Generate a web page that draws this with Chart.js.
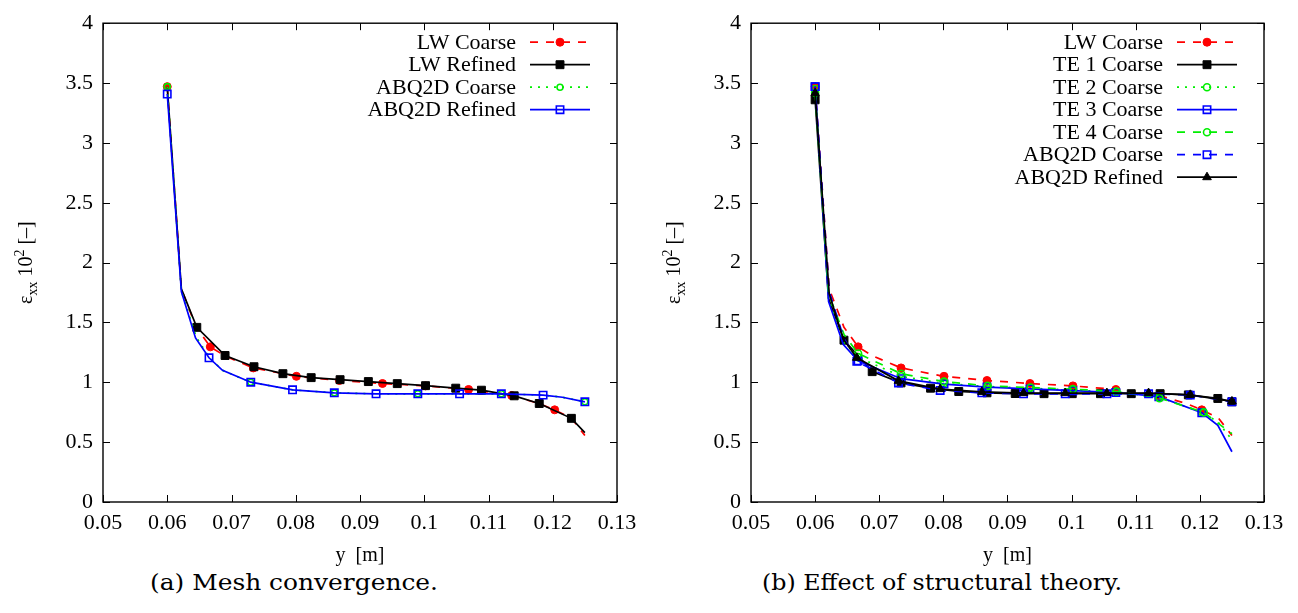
<!DOCTYPE html>
<html>
<head>
<meta charset="utf-8">
<script src="https://cdn.jsdelivr.net/npm/chart.js@4.4.0/dist/chart.umd.min.js"></script>
<style>
html, body { margin: 0; padding: 0; background: #fff; width: 1298px; height: 613px; overflow: hidden; }
canvas { position: absolute; top: 0; }
#cA { left: 0; }
#cB { left: 649px; }
.cap { position: absolute; top: 571px; font-family: "DejaVu Serif", serif; font-size: 22px; line-height: 24px; white-space: nowrap; color: #000; transform-origin: 0 50%; }
</style>
</head>
<body>
<canvas id="cA" width="649" height="570"></canvas>
<canvas id="cB" width="649" height="570"></canvas>
<div class="cap" id="capA">(a) Mesh convergence.</div>
<div class="cap" id="capB">(b) Effect of structural theory.</div>
<script>
var xTicks = [0.05, 0.06, 0.07, 0.08, 0.09, 0.1, 0.11, 0.12, 0.13];
var yTicks = [0, 0.5, 1, 1.5, 2, 2.5, 3, 3.5, 4];

// LW Coarse (same curve in both panels)
var lwCoarseX = [0.06, 0.0622, 0.0645, 0.0667, 0.069, 0.0734, 0.0801, 0.0868, 0.0935, 0.1002, 0.1069, 0.1136, 0.118, 0.1203, 0.1229, 0.125];
var lwCoarseY = [3.47, 1.78, 1.46, 1.296, 1.22, 1.12, 1.05, 1.015, 0.99, 0.97, 0.94, 0.89, 0.82, 0.77, 0.70, 0.556];

// panel (a)
var lwRefX = [0.06, 0.0622, 0.0646, 0.069, 0.0735, 0.078, 0.0824, 0.0869, 0.0913, 0.0958, 0.1002, 0.1049, 0.1089, 0.114, 0.1179, 0.1229, 0.125];
var lwRefY = [3.47, 1.78, 1.459, 1.224, 1.13, 1.072, 1.039, 1.022, 1.006, 0.989, 0.972, 0.951, 0.934, 0.887, 0.823, 0.699, 0.58];
var abqCoarseAX = [0.06, 0.0622, 0.0645, 0.0665, 0.0686, 0.073, 0.0795, 0.086, 0.0925, 0.099, 0.1055, 0.112, 0.1185, 0.1215, 0.125];
var abqCoarseAY = [3.47, 1.76, 1.38, 1.21, 1.10, 1.0, 0.937, 0.912, 0.904, 0.904, 0.904, 0.904, 0.893, 0.875, 0.837];
var abqRefAX = [0.06, 0.0622, 0.0644, 0.0665, 0.0686, 0.073, 0.0795, 0.086, 0.0925, 0.099, 0.1055, 0.112, 0.1185, 0.1215, 0.125];
var abqRefAY = [3.408, 1.758, 1.371, 1.205, 1.10, 1.001, 0.937, 0.912, 0.904, 0.904, 0.904, 0.904, 0.893, 0.875, 0.837];

// panel (b)
var te1X = [0.06, 0.0621, 0.0645, 0.0689, 0.0734, 0.078, 0.0824, 0.0868, 0.0912, 0.0957, 0.1001, 0.1045, 0.1093, 0.1138, 0.1182, 0.1228, 0.125];
var te1Y = [3.36, 1.70, 1.352, 1.089, 0.995, 0.951, 0.923, 0.912, 0.906, 0.905, 0.905, 0.905, 0.905, 0.905, 0.895, 0.865, 0.837];
var te2X = [0.06, 0.0621, 0.0644, 0.0667, 0.0734, 0.0801, 0.0868, 0.0935, 0.1002, 0.1069, 0.1136, 0.1203, 0.1228, 0.125];
var te2Y = [3.45, 1.70, 1.34, 1.21, 1.05, 0.99, 0.965, 0.95, 0.935, 0.92, 0.875, 0.75, 0.67, 0.52];
var te3X = [0.06, 0.0621, 0.0644, 0.0667, 0.0734, 0.0801, 0.0868, 0.0935, 0.1002, 0.1069, 0.1136, 0.1203, 0.1228, 0.125];
var te3Y = [3.47, 1.675, 1.316, 1.18, 1.03, 0.985, 0.96, 0.945, 0.93, 0.915, 0.88, 0.745, 0.64, 0.42];
var te4X = [0.06, 0.0621, 0.0645, 0.0667, 0.0734, 0.0801, 0.0869, 0.0936, 0.1002, 0.107, 0.1137, 0.1206, 0.125];
var te4Y = [3.42, 1.74, 1.40, 1.241, 1.072, 1.006, 0.970, 0.956, 0.943, 0.923, 0.868, 0.749, 0.57];
var abqCoarseBX = [0.06, 0.0622, 0.0644, 0.0665, 0.073, 0.0795, 0.086, 0.0925, 0.099, 0.1055, 0.112, 0.1185, 0.125];
var abqCoarseBY = [3.47, 1.76, 1.38, 1.175, 0.995, 0.932, 0.912, 0.904, 0.904, 0.904, 0.904, 0.893, 0.837];
var abqRefBX = [0.06, 0.0622, 0.0644, 0.0665, 0.073, 0.0795, 0.086, 0.0925, 0.099, 0.1055, 0.112, 0.1185, 0.125];
var abqRefBY = [3.416, 1.74, 1.36, 1.205, 1.012, 0.943, 0.92, 0.91, 0.91, 0.91, 0.91, 0.895, 0.84];

var RED = '#ff0000', BLACK = '#000000', GREEN = '#00ee00', BLUE = '#0000ff';
var DASH = [8, 8], DOT = [2, 6];
var SERIF = '"Liberation Serif", "Times New Roman", Times, serif';

function series(label, xs, ys, color, dash, shape, r, filled, noMark) {
    return {
        label: label,
        data: xs.map(function (x, i) { return { x: x, y: ys[i] }; }),
        showLine: true,
        fill: false,
        tension: 0,
        borderColor: color,
        borderWidth: 1.7,
        borderDash: dash,
        pointStyle: shape,
        markR: r,
        pointRadius: function (ctx) { return noMark.indexOf(ctx.dataIndex) >= 0 ? 0 : r; },
        pointHoverRadius: 0,
        pointBackgroundColor: filled ? color : 'rgba(0,0,0,0)',
        pointBorderColor: color,
        pointBorderWidth: filled ? 1 : 1.6
    };
}

var frameAndLabels = {
    id: 'frameAndLabels',
    afterDraw: function (chart) {
        var ctx = chart.ctx;
        var a = chart.chartArea;
        var xs = chart.scales.x, ys = chart.scales.y;
        ctx.save();
        ctx.setLineDash([]);
        ctx.strokeStyle = '#000';
        ctx.lineWidth = 1.4;
        ctx.strokeRect(a.left, a.top, a.right - a.left, a.bottom - a.top);
        ctx.lineWidth = 1;
        ctx.beginPath();
        xTicks.forEach(function (v) {
            var px = Math.round(xs.getPixelForValue(v)) + 0.5;
            ctx.moveTo(px, a.bottom); ctx.lineTo(px, a.bottom - 7);
            ctx.moveTo(px, a.top); ctx.lineTo(px, a.top + 7);
        });
        yTicks.forEach(function (v) {
            var py = Math.round(ys.getPixelForValue(v)) + 0.5;
            ctx.moveTo(a.left, py); ctx.lineTo(a.left + 7, py);
            ctx.moveTo(a.right, py); ctx.lineTo(a.right - 7, py);
        });
        ctx.stroke();

        // legend, gnuplot style: text right, sample on the right
        ctx.font = '22px ' + SERIF;
        ctx.textAlign = 'right';
        ctx.textBaseline = 'middle';
        chart.data.datasets.forEach(function (ds, i) {
            var y = a.top + 19 + i * 22.5;
            ctx.fillStyle = '#000';
            ctx.fillText(ds.label, a.right - 101, y + 1);
            ctx.strokeStyle = ds.borderColor;
            ctx.lineWidth = ds.borderWidth;
            ctx.setLineDash(ds.borderDash);
            ctx.beginPath();
            ctx.moveTo(a.right - 87, y); ctx.lineTo(a.right - 27, y);
            ctx.stroke();
            ctx.setLineDash([]);
            ctx.fillStyle = ds.pointBackgroundColor;
            ctx.strokeStyle = ds.pointBorderColor;
            ctx.lineWidth = ds.pointBorderWidth;
            Chart.helpers.drawPoint(ctx, { pointStyle: ds.pointStyle, radius: ds.markR, borderWidth: ds.pointBorderWidth, rotation: 0 }, a.right - 57, y);
        });

        // x title
        ctx.fillStyle = '#000';
        ctx.textAlign = 'center';
        ctx.textBaseline = 'middle';
        ctx.font = '20px ' + SERIF;
        ctx.fillText('y  [m]', (a.left + a.right) / 2, a.bottom + 54);

        // y title with sub/superscripts
        var parts = [
            { t: '\u03b5', f: 20, dy: 0 },
            { t: 'xx', f: 14, dy: 5 },
            { t: ' 10', f: 20, dy: 0 },
            { t: '2', f: 14, dy: -8 },
            { t: ' [\u2013]', f: 20, dy: 0 }
        ];
        var total = 0;
        parts.forEach(function (p) {
            ctx.font = p.f + 'px ' + SERIF;
            p.w = ctx.measureText(p.t).width;
            total += p.w;
        });
        ctx.translate(a.left - 78, (a.top + a.bottom) / 2);
        ctx.rotate(-Math.PI / 2);
        ctx.textAlign = 'left';
        ctx.textBaseline = 'alphabetic';
        var cx = -total / 2;
        parts.forEach(function (p) {
            ctx.font = p.f + 'px ' + SERIF;
            ctx.fillText(p.t, cx, 7 + p.dy);
            cx += p.w;
        });
        ctx.restore();
    }
};

function makeChart(id, datasets, yWidth, padRight) {
    return new Chart(document.getElementById(id), {
        type: 'scatter',
        data: { datasets: datasets },
        plugins: [frameAndLabels],
        options: {
            responsive: false,
            animation: false,
            events: [],
            layout: { padding: { top: 19, right: padRight, left: 0, bottom: 0 } },
            plugins: { legend: { display: false }, tooltip: { enabled: false } },
            scales: {
                x: {
                    type: 'linear', min: 0.05, max: 0.13,
                    grid: { display: false, drawTicks: false },
                    border: { display: false },
                    afterBuildTicks: function (s) { s.ticks = xTicks.map(function (v) { return { value: v }; }); },
                    afterFit: function (s) { s.height = 68; },
                    ticks: {
                        padding: 8, color: '#000', autoSkip: false, maxRotation: 0,
                        font: { family: SERIF, size: 22 },
                        callback: function (v) { return String(Number(v.toFixed(2))); }
                    }
                },
                y: {
                    type: 'linear', min: 0, max: 4,
                    grid: { display: false, drawTicks: false },
                    border: { display: false },
                    afterBuildTicks: function (s) { s.ticks = yTicks.map(function (v) { return { value: v }; }); },
                    afterFit: function (s) { s.width = yWidth; },
                    ticks: {
                        padding: 10, color: '#000',
                        font: { family: SERIF, size: 22 },
                        callback: function (v) { return String(Number(v.toFixed(2))); }
                    }
                }
            }
        }
    });
}

var setA = [
    series('LW Coarse', lwCoarseX, lwCoarseY, RED, DASH, 'circle', 4, true, [1, 2, 4, 12, 14, 15]),
    series('LW Refined', lwRefX, lwRefY, BLACK, [], 'rect', 5.6, true, [0, 1, 16]),
    series('ABQ2D Coarse', abqCoarseAX, abqCoarseAY, GREEN, DOT, 'circle', 3, false, [1, 2, 3, 4, 6, 8, 10, 12, 13]),
    series('ABQ2D Refined', abqRefAX, abqRefAY, BLUE, [], 'rect', 5.2, false, [1, 2, 4, 13])
];
var setB = [
    series('LW Coarse', lwCoarseX, lwCoarseY, RED, DASH, 'circle', 4, true, [1, 2, 4, 12, 14, 15]),
    series('TE 1 Coarse', te1X, te1Y, BLACK, [], 'rect', 5.6, true, [1]),
    series('TE 2 Coarse', te2X, te2Y, GREEN, DOT, 'circle', 3.5, false, [1, 2, 12, 13]),
    series('TE 3 Coarse', te3X, te3Y, BLUE, [], 'rect', 5.2, false, [1, 2, 12, 13]),
    series('TE 4 Coarse', te4X, te4Y, GREEN, DASH, 'circle', 3.5, false, [1, 2, 12]),
    series('ABQ2D Coarse', abqCoarseBX, abqCoarseBY, BLUE, DASH, 'rect', 5.2, false, [1, 2]),
    series('ABQ2D Refined', abqRefBX, abqRefBY, BLACK, [], 'triangle', 5, true, [1, 2])
];
// later series are drawn on top, as in the original plot
setA.forEach(function (d, i) { d.order = -i; });
setB.forEach(function (d, i) { d.order = -i; });

var charts = [makeChart('cA', setA, 103, 32), makeChart('cB', setB, 102, 34)];

function placeCaption(id, center, target) {
    var el = document.getElementById(id);
    el.style.transform = 'none';
    var w = el.getBoundingClientRect().width;
    el.style.left = (center - target / 2) + 'px';
    el.style.transform = 'scaleX(' + (target / w) + ')';
}
placeCaption('capA', 294, 288);
placeCaption('capB', 942, 360);

if (document.fonts && document.fonts.load) {
    document.fonts.load('22px "Liberation Serif"').then(function () {
        charts.forEach(function (c) { c.update('none'); });
    });
}
</script>
</body>
</html>
